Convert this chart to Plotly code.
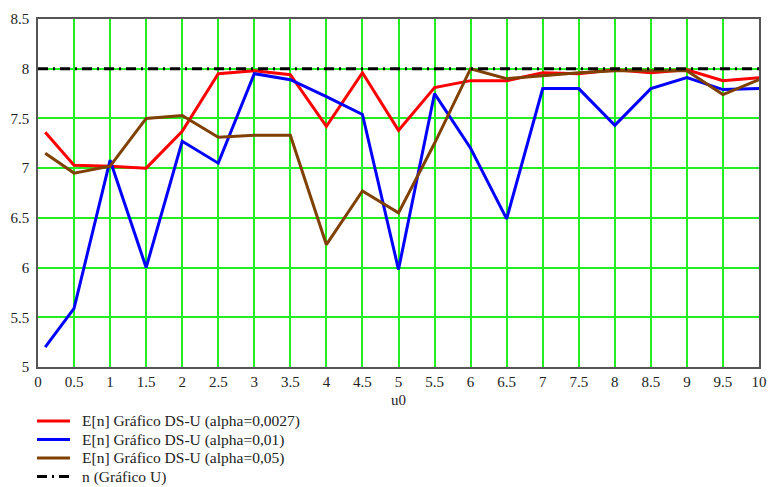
import plotly.graph_objects as go

# Shift values u0 at which the expected sample size was evaluated
u0 = [0.1, 0.5, 1, 1.5, 2, 2.5, 3, 3.5, 4, 4.5, 5, 5.5, 6, 6.5, 7, 7.5, 8, 8.5, 9, 9.5, 10]

# Expected n for the DS-U chart at three alpha levels
en_alpha_0027 = [7.36, 7.03, 7.02, 7.00, 7.37, 7.95, 7.98, 7.94, 7.42, 7.96, 7.38,
                 7.81, 7.88, 7.88, 7.96, 7.95, 7.99, 7.96, 7.99, 7.88, 7.91]
en_alpha_01 = [5.20, 5.59, 7.08, 6.00, 7.27, 7.05, 7.95, 7.89, 7.72, 7.54, 5.98,
               7.75, 7.20, 6.49, 7.80, 7.80, 7.43, 7.80, 7.91, 7.79, 7.80]
en_alpha_05 = [7.15, 6.95, 7.02, 7.50, 7.53, 7.31, 7.33, 7.33, 6.23, 6.77, 6.55,
               7.25, 8.00, 7.90, 7.93, 7.96, 7.98, 7.98, 7.98, 7.74, 7.89]

# Fixed sample size of the U chart
n_u_chart = 8
u_line_x = [0, 10]

series_names = ["E[n] Gráfico DS-U (alpha=0,0027)",
                "E[n] Gráfico DS-U (alpha=0,01)",
                "E[n] Gráfico DS-U (alpha=0,05)",
                "n (Gráfico U)"]

serif = '"Liberation Serif", "Times New Roman", serif'
W, H = 768, 487
M = dict(l=38, r=9, t=19, b=120)
DASHDOT = "10px,5px,2px,5px"

styles = [dict(color="#ff0000", width=3),
          dict(color="#0000ff", width=3),
          dict(color="#7f4000", width=3),
          dict(color="#000000", width=3, dash=DASHDOT)]

fig = go.Figure()
series = [(u0, en_alpha_0027), (u0, en_alpha_01), (u0, en_alpha_05),
          (u_line_x, [n_u_chart] * len(u_line_x))]
for (xs, ys), name, st in zip(series, series_names, styles):
    fig.add_trace(go.Scatter(x=xs, y=ys, mode="lines", line=st, name=name,
                             showlegend=False))

# Legend block under the x axis: short line sample + label per series
plot_w = W - M["l"] - M["r"]
plot_h = H - M["t"] - M["b"]


def px_to_paper(px, py):
    return (px - M["l"]) / plot_w, (H - M["b"] - py) / plot_h


legend_rows_y = [421, 439.5, 458, 476.5]
for name, st, ry in zip(series_names, styles, legend_rows_y):
    x0, y0 = px_to_paper(37, ry)
    x1, _ = px_to_paper(70, ry)
    fig.add_shape(type="line", xref="paper", yref="paper", x0=x0, x1=x1, y0=y0, y1=y0,
                  line=dict(color=st["color"], width=st["width"], dash=st.get("dash", "solid")))
    tx, _ = px_to_paper(80, ry)
    fig.add_annotation(text=name, xref="paper", yref="paper", x=tx, y=y0,
                       xanchor="left", yanchor="middle", showarrow=False,
                       font=dict(family=serif, size=15.5, color="#222222"))

axis_common = dict(
    showgrid=True, gridcolor="#22ee22", gridwidth=1.5,
    showline=True, linecolor="#555555", linewidth=1.5, mirror=True,
    zeroline=False, ticks="", automargin=False,
    tickfont=dict(family=serif, size=15, color="#222222"),
)

fig.update_layout(
    width=W, height=H,
    margin=dict(**M, autoexpand=False),
    plot_bgcolor="white", paper_bgcolor="white",
    font=dict(family=serif, size=15, color="#222222"),
    xaxis=dict(range=[0, 10], dtick=0.5, tick0=0,
               title=dict(text="u0", font=dict(family=serif, size=15), standoff=6),
               **axis_common),
    yaxis=dict(range=[5, 8.5], dtick=0.5, tick0=5, ticklabelstandoff=4, **axis_common),
    showlegend=False,
)

fig.write_html("out.html")
